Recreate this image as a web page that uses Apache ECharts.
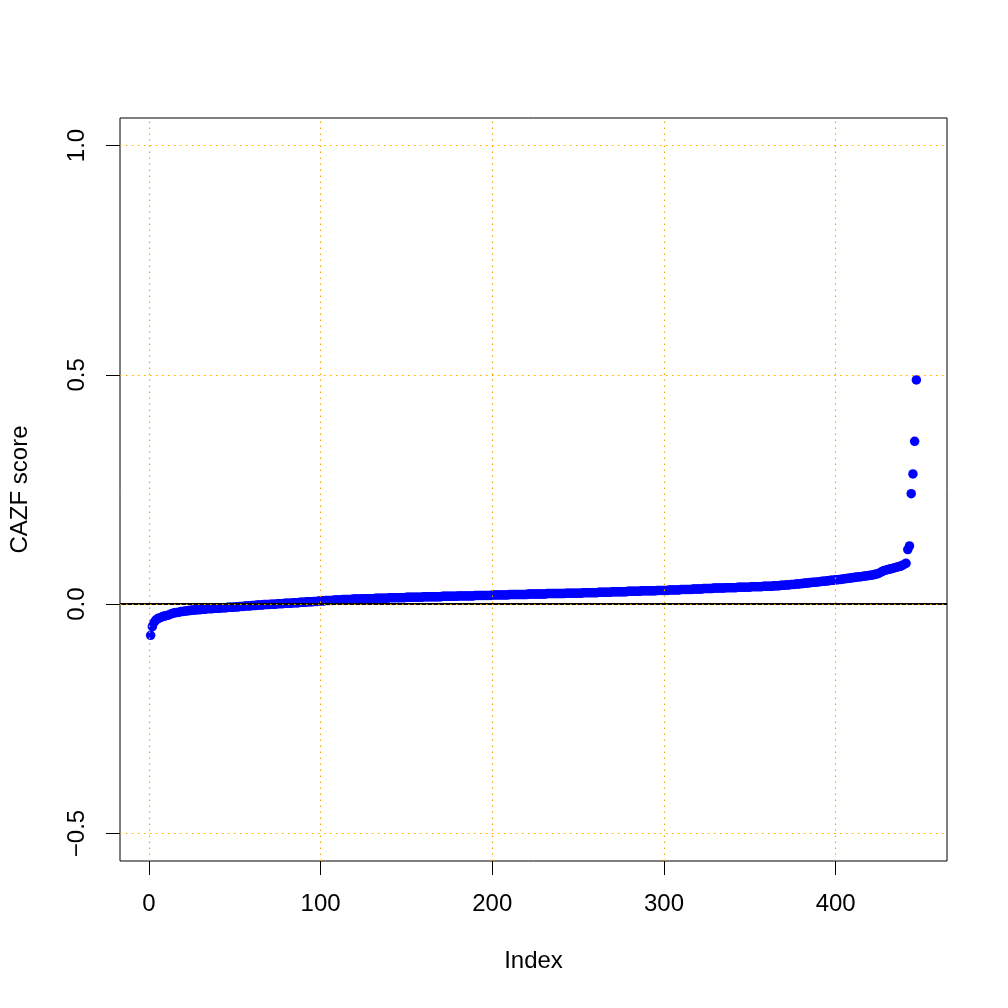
<!DOCTYPE html>
<html>
<head>
<meta charset="utf-8">
<script src="https://cdn.jsdelivr.net/npm/echarts@6/dist/echarts.min.js"></script>
<style>
html,body{margin:0;padding:0;background:#fff;}
#chart{width:1008px;height:1008px;}
</style>
</head>
<body>
<div id="chart"></div>
<script>
// CAZF scores, sorted, index 1..447
const cazfScores = [
-0.068,-0.049,-0.040,-0.035,-0.032,-0.030,-0.029,-0.027,-0.026,-0.025,
-0.024,-0.023,-0.021,-0.020,-0.019,-0.018,-0.018,-0.017,-0.016,-0.016,
-0.015,-0.015,-0.014,-0.014,-0.013,-0.013,-0.013,-0.012,-0.012,-0.012,
-0.011,-0.011,-0.011,-0.010,-0.010,-0.010,-0.010,-0.009,-0.009,-0.009,
-0.009,-0.008,-0.008,-0.008,-0.008,-0.007,-0.007,-0.007,-0.007,-0.006,
-0.006,-0.006,-0.005,-0.005,-0.005,-0.004,-0.004,-0.004,-0.004,-0.003,
-0.003,-0.003,-0.002,-0.002,-0.002,-0.002,-0.001,-0.001,-0.001,-0.001,
0.000,0.000,0.000,0.000,0.001,0.001,0.001,0.001,0.002,0.002,
0.002,0.002,0.002,0.003,0.003,0.003,0.003,0.004,0.004,0.004,
0.004,0.005,0.005,0.005,0.005,0.006,0.006,0.006,0.007,0.007,
0.007,0.007,0.008,0.008,0.008,0.008,0.008,0.009,0.009,0.009,
0.009,0.009,0.010,0.010,0.010,0.010,0.010,0.010,0.011,0.011,
0.011,0.011,0.011,0.011,0.012,0.012,0.012,0.012,0.012,0.012,
0.012,0.013,0.013,0.013,0.013,0.013,0.013,0.013,0.013,0.014,
0.014,0.014,0.014,0.014,0.014,0.014,0.014,0.014,0.014,0.015,
0.015,0.015,0.015,0.015,0.015,0.015,0.015,0.015,0.015,0.016,
0.016,0.016,0.016,0.016,0.016,0.016,0.016,0.016,0.016,0.016,
0.017,0.017,0.017,0.017,0.017,0.017,0.017,0.017,0.017,0.018,
0.018,0.018,0.018,0.018,0.018,0.018,0.018,0.018,0.018,0.019,
0.019,0.019,0.019,0.019,0.019,0.019,0.019,0.019,0.019,0.020,
0.020,0.020,0.020,0.020,0.020,0.020,0.020,0.020,0.020,0.021,
0.021,0.021,0.021,0.021,0.021,0.021,0.021,0.021,0.021,0.021,
0.022,0.022,0.022,0.022,0.022,0.022,0.022,0.022,0.022,0.022,
0.022,0.023,0.023,0.023,0.023,0.023,0.023,0.023,0.023,0.023,
0.023,0.023,0.024,0.024,0.024,0.024,0.024,0.024,0.024,0.024,
0.024,0.024,0.025,0.025,0.025,0.025,0.025,0.025,0.025,0.025,
0.025,0.026,0.026,0.026,0.026,0.026,0.026,0.026,0.026,0.027,
0.027,0.027,0.027,0.027,0.027,0.027,0.027,0.027,0.028,0.028,
0.028,0.028,0.028,0.028,0.028,0.028,0.029,0.029,0.029,0.029,
0.029,0.029,0.029,0.029,0.029,0.030,0.030,0.030,0.030,0.030,
0.030,0.030,0.031,0.031,0.031,0.031,0.031,0.031,0.031,0.032,
0.032,0.032,0.032,0.032,0.032,0.032,0.033,0.033,0.033,0.033,
0.033,0.033,0.034,0.034,0.034,0.034,0.034,0.034,0.035,0.035,
0.035,0.035,0.035,0.035,0.035,0.036,0.036,0.036,0.036,0.036,
0.036,0.036,0.037,0.037,0.037,0.037,0.037,0.037,0.037,0.037,
0.038,0.038,0.038,0.038,0.038,0.038,0.038,0.039,0.039,0.039,
0.039,0.039,0.039,0.040,0.040,0.040,0.040,0.041,0.041,0.041,
0.042,0.042,0.042,0.043,0.043,0.043,0.044,0.044,0.044,0.045,
0.045,0.046,0.046,0.046,0.047,0.047,0.048,0.048,0.048,0.049,
0.049,0.050,0.050,0.050,0.051,0.051,0.052,0.052,0.052,0.053,
0.053,0.054,0.054,0.055,0.055,0.056,0.056,0.057,0.057,0.058,
0.058,0.059,0.059,0.060,0.060,0.061,0.061,0.062,0.062,0.063,
0.063,0.064,0.065,0.066,0.067,0.069,0.071,0.073,0.074,0.075,
0.076,0.077,0.078,0.079,0.080,0.081,0.082,0.083,0.085,0.087,
0.089,0.119,0.127,0.241,0.284,0.355,0.489
];
const xTicks = [0, 100, 200, 300, 400];
const yTicks = [-0.5, 0, 0.5, 1.0];
const yTickLabels = ['\u22120.5', '0.0', '0.5', '1.0'];
const xAxisTitle = 'Index';
const yAxisTitle = 'CAZF score';

const n = cazfScores.length;
const xMin = 1 - 0.04 * (n - 1), xMax = n + 0.04 * (n - 1);
const yMin = -0.5 - 0.04 * 1.5, yMax = 1.0 + 0.04 * 1.5;

const points = cazfScores.map((v, i) => [i + 1, v]);
const FONT = '"Liberation Sans", Arial, Helvetica, sans-serif';

const chart = echarts.init(document.getElementById('chart'), null, {renderer: 'canvas'});
chart.setOption({
  animation: false,
  backgroundColor: '#ffffff',
  grid: {left: 118, top: 118, right: 61, bottom: 147, show: true, borderColor: '#000', borderWidth: 1, backgroundColor: 'transparent', containLabel: false},
  xAxis: {
    type: 'value', min: xMin, max: xMax, position: 'bottom',
    axisLine: {show: false, onZero: false},
    splitLine: {show: false},
    axisTick: {show: true, length: 14, inside: false, customValues: xTicks, lineStyle: {color: '#000', width: 1}},
    axisLabel: {show: true, customValues: xTicks, margin: 31, fontSize: 24, color: '#000', fontFamily: FONT,
      formatter: v => String(Math.round(v))},
    name: xAxisTitle, nameLocation: 'middle', nameGap: 88,
    nameTextStyle: {fontSize: 24, color: '#000', fontFamily: FONT}
  },
  yAxis: {
    type: 'value', min: yMin, max: yMax, position: 'left',
    axisLine: {show: false, onZero: false},
    splitLine: {show: false},
    axisTick: {show: true, length: 14, inside: false, customValues: yTicks, lineStyle: {color: '#000', width: 1}},
    axisLabel: {show: true, customValues: yTicks, margin: 31, rotate: 90, fontSize: 24, color: '#000', fontFamily: FONT,
      formatter: v => { const k = yTicks.findIndex(t => Math.abs(t - v) < 1e-9); return k >= 0 ? yTickLabels[k] : ''; }},
    name: yAxisTitle, nameLocation: 'middle', nameGap: 88, nameRotate: 90,
    nameTextStyle: {fontSize: 24, color: '#000', fontFamily: FONT}
  },
  series: [
    {
      type: 'scatter', data: points, symbol: 'circle', symbolSize: 9.5,
      itemStyle: {color: '#0000FF', opacity: 1}, silent: true, z: 2
    },
    {
      type: 'line', data: [], z: 3, silent: true,
      markLine: {silent: true, symbol: 'none', label: {show: false}, animation: false,
        lineStyle: {color: '#000', width: 2, type: 'solid'},
        data: [{yAxis: 0}]}
    },
    {
      type: 'line', data: [], z: 4, silent: true,
      markLine: {silent: true, symbol: 'none', label: {show: false}, animation: false,
        lineStyle: {color: '#FFA500', width: 1.2, type: [1.5, 4.5]},
        data: xTicks.map(v => ({xAxis: v})).concat(yTicks.map(v => ({yAxis: v})))}
    }
  ]
});
</script>
</body>
</html>
